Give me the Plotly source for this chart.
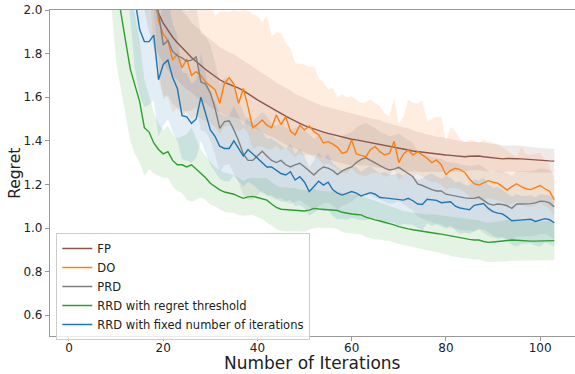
import plotly.graph_objects as go

# ---------------- data ----------------
series_names = ["FP", "DO", "PRD", "RRD with regret threshold", "RRD with fixed number of iterations"]
series_colors = ["#8c564b", "#ff7f0e", "#7f7f7f", "#2ca02c", "#1f77b4"]

x_ticks = [0, 20, 40, 60, 80, 100]
y_ticks = [0.6, 0.8, 1.0, 1.2, 1.4, 1.6, 1.8, 2.0]
x_label = "Number of Iterations"
y_label = "Regret"

# FP (starts at iteration 15)
fp_start = 15
fp_mean = [2.3, 2.2, 2.1, 2.02, 1.985, 1.94, 1.905, 1.875, 1.85, 1.825, 1.805, 1.782, 1.762, 1.745, 1.727,
           1.71, 1.695, 1.68, 1.668, 1.66, 1.652, 1.642, 1.63, 1.615, 1.60, 1.588, 1.575, 1.562, 1.55, 1.536,
           1.525, 1.513, 1.502, 1.49, 1.48, 1.47, 1.462, 1.455, 1.448, 1.44, 1.434, 1.428, 1.422, 1.416, 1.411,
           1.407, 1.404, 1.40, 1.397, 1.393, 1.389, 1.385, 1.38, 1.376, 1.373, 1.368, 1.363, 1.358, 1.353, 1.35,
           1.347, 1.344, 1.341, 1.339, 1.337, 1.335, 1.333, 1.33, 1.328, 1.327, 1.329, 1.331, 1.33, 1.327, 1.324,
           1.321, 1.318, 1.317, 1.319, 1.32, 1.318, 1.317, 1.315, 1.313, 1.312, 1.31, 1.309, 1.308, 1.307]
fp_up = [0.2, 0.2, 0.2, 0.19, 0.19, 0.18, 0.18, 0.18, 0.17, 0.17, 0.17, 0.16, 0.16, 0.16, 0.155,
         0.155, 0.15, 0.15, 0.15, 0.145, 0.145, 0.14, 0.14, 0.14, 0.14, 0.135, 0.135, 0.135, 0.13, 0.13,
         0.13, 0.13, 0.13, 0.125, 0.125, 0.125, 0.125, 0.12, 0.12, 0.12, 0.12, 0.12, 0.12, 0.12, 0.12,
         0.12, 0.115, 0.115, 0.11, 0.11, 0.11, 0.11, 0.105, 0.105, 0.1, 0.1, 0.1, 0.1, 0.095, 0.09,
         0.09, 0.085, 0.085, 0.08, 0.08, 0.078, 0.075, 0.072, 0.07, 0.068, 0.066, 0.065, 0.065, 0.065, 0.064,
         0.063, 0.062, 0.062, 0.06, 0.06, 0.06, 0.06, 0.058, 0.058, 0.057, 0.056, 0.056, 0.055, 0.055]
fp_lo = fp_up

# DO (starts at iteration 15)
do_start = 15
do_mean = [2.9, 2.7, 2.4, 2.1, 1.95, 1.89, 1.86, 1.77, 1.80, 1.735, 1.775, 1.70, 1.717, 1.70, 1.67,
           1.652, 1.635, 1.572, 1.664, 1.69, 1.66, 1.572, 1.64, 1.556, 1.46, 1.475, 1.495, 1.472, 1.46, 1.518,
           1.475, 1.51, 1.445, 1.427, 1.472, 1.45, 1.468, 1.442, 1.427, 1.39, 1.396, 1.385, 1.37, 1.342, 1.35,
           1.404, 1.34, 1.333, 1.327, 1.36, 1.373, 1.35, 1.335, 1.342, 1.398, 1.30, 1.34, 1.358, 1.335, 1.35,
           1.335, 1.32, 1.30, 1.312, 1.29, 1.245, 1.265, 1.274, 1.268, 1.255, 1.225, 1.203, 1.197, 1.207, 1.217,
           1.21, 1.206, 1.19, 1.174, 1.19, 1.203, 1.19, 1.18, 1.176, 1.187, 1.195, 1.18, 1.168, 1.13]
do_up = [0.45, 0.45, 0.42, 0.42, 0.4, 0.42, 0.38, 0.4, 0.36, 0.4, 0.35, 0.38, 0.42, 0.36, 0.33,
         0.38, 0.34, 0.42, 0.33, 0.30, 0.34, 0.42, 0.36, 0.44, 0.52, 0.5, 0.45, 0.5, 0.42, 0.38,
         0.42, 0.34, 0.38, 0.33, 0.28, 0.30, 0.27, 0.3, 0.26, 0.28, 0.24, 0.26, 0.23, 0.27, 0.25,
         0.2, 0.25, 0.24, 0.25, 0.23, 0.2, 0.21, 0.19, 0.17, 0.2, 0.18, 0.17, 0.23, 0.24, 0.22,
         0.25, 0.17, 0.2, 0.2, 0.22, 0.15, 0.2, 0.17, 0.14, 0.14, 0.18, 0.2, 0.19, 0.2, 0.18,
         0.18, 0.18, 0.18, 0.18, 0.15, 0.12, 0.18, 0.16, 0.16, 0.155, 0.15, 0.13, 0.12, 0.09]
do_lo = [0.3, 0.3, 0.28, 0.28, 0.27, 0.28, 0.26, 0.24, 0.25, 0.22, 0.24, 0.2, 0.2, 0.2, 0.18,
         0.17, 0.17, 0.14, 0.2, 0.22, 0.2, 0.13, 0.18, 0.12, 0.1, 0.1, 0.12, 0.11, 0.1, 0.14,
         0.12, 0.14, 0.1, 0.1, 0.13, 0.12, 0.13, 0.12, 0.11, 0.1, 0.1, 0.1, 0.1, 0.09, 0.1,
         0.13, 0.09, 0.09, 0.09, 0.11, 0.12, 0.1, 0.1, 0.1, 0.13, 0.08, 0.1, 0.11, 0.1, 0.1,
         0.1, 0.1, 0.09, 0.1, 0.09, 0.07, 0.08, 0.09, 0.09, 0.09, 0.08, 0.07, 0.07, 0.08, 0.08,
         0.08, 0.08, 0.07, 0.07, 0.08, 0.08, 0.08, 0.08, 0.08, 0.08, 0.08, 0.08, 0.08, 0.07]

# PRD (starts at iteration 16)
prd_start = 16
prd_mean = [2.8, 2.5, 2.25, 1.99, 1.84, 1.86, 1.81, 1.79, 1.78, 1.765, 1.77, 1.785, 1.67, 1.66,
            1.62, 1.55, 1.457, 1.488, 1.492, 1.45, 1.40, 1.34, 1.31, 1.31, 1.33, 1.352, 1.33, 1.31, 1.30,
            1.31, 1.29, 1.28, 1.29, 1.297, 1.28, 1.262, 1.243, 1.265, 1.28, 1.275, 1.263, 1.245, 1.262, 1.272,
            1.28, 1.30, 1.315, 1.322, 1.31, 1.298, 1.287, 1.275, 1.266, 1.27, 1.278, 1.262, 1.25, 1.235, 1.202,
            1.195, 1.185, 1.176, 1.17, 1.17, 1.155, 1.15, 1.148, 1.141, 1.138, 1.136, 1.136, 1.142, 1.127, 1.112,
            1.105, 1.11, 1.108, 1.102, 1.09, 1.11, 1.11, 1.11, 1.112, 1.115, 1.123, 1.122, 1.115, 1.097]
prd_up = [0.28, 0.27, 0.26, 0.25, 0.25, 0.25, 0.24, 0.24, 0.24, 0.23, 0.23, 0.23, 0.22, 0.22,
          0.22, 0.21, 0.2, 0.2, 0.2, 0.2, 0.19, 0.19, 0.18, 0.18, 0.18, 0.18, 0.18, 0.17, 0.17,
          0.17, 0.17, 0.17, 0.17, 0.17, 0.17, 0.165, 0.165, 0.165, 0.165, 0.16, 0.16, 0.16, 0.16, 0.16,
          0.16, 0.16, 0.16, 0.16, 0.16, 0.16, 0.155, 0.155, 0.155, 0.155, 0.155, 0.155, 0.155, 0.155, 0.15,
          0.15, 0.15, 0.15, 0.15, 0.15, 0.15, 0.15, 0.15, 0.15, 0.15, 0.15, 0.15, 0.15, 0.15, 0.15,
          0.15, 0.15, 0.15, 0.15, 0.15, 0.15, 0.15, 0.15, 0.15, 0.15, 0.15, 0.15, 0.15, 0.15]
prd_lo = prd_up

# RRD with regret threshold (starts at iteration 8)
thr_start = 8
thr_mean = [2.9, 2.4, 2.12, 1.98, 1.86, 1.73, 1.66, 1.58, 1.46, 1.44, 1.39, 1.36, 1.34, 1.35, 1.31,
            1.29, 1.29, 1.28, 1.29, 1.27, 1.25, 1.23, 1.205, 1.19, 1.175, 1.165, 1.16, 1.155, 1.145, 1.136,
            1.143, 1.145, 1.14, 1.135, 1.128, 1.11, 1.095, 1.086, 1.085, 1.084, 1.083, 1.08, 1.078, 1.082, 1.09,
            1.087, 1.085, 1.084, 1.083, 1.08, 1.072, 1.067, 1.064, 1.062, 1.06, 1.05, 1.042, 1.037, 1.032, 1.026,
            1.022, 1.014, 1.006, 1.0, 0.996, 0.992, 0.988, 0.985, 0.98, 0.978, 0.975, 0.972, 0.968, 0.962, 0.957,
            0.955, 0.952, 0.948, 0.945, 0.945, 0.938, 0.934, 0.936, 0.939, 0.941, 0.943, 0.945, 0.944, 0.942, 0.941,
            0.94, 0.94, 0.941, 0.942, 0.942, 0.942]
thr_up = [0.4, 0.38, 0.36, 0.35, 0.34, 0.33, 0.32, 0.28, 0.22, 0.17, 0.14, 0.12, 0.11, 0.12, 0.12,
          0.12, 0.13, 0.15, 0.17, 0.14, 0.11, 0.10, 0.1, 0.09, 0.09, 0.09, 0.09, 0.085, 0.085, 0.08,
          0.085, 0.085, 0.09, 0.095, 0.1, 0.1, 0.1, 0.1, 0.1, 0.1, 0.1, 0.095, 0.095, 0.09, 0.09,
          0.085, 0.085, 0.085, 0.083, 0.085, 0.09, 0.09, 0.09, 0.09, 0.09, 0.09, 0.09, 0.09, 0.085, 0.085,
          0.08, 0.08, 0.08, 0.078, 0.078, 0.077, 0.08, 0.08, 0.082, 0.085, 0.085, 0.087, 0.088, 0.09, 0.09,
          0.09, 0.09, 0.09, 0.09, 0.09, 0.09, 0.09, 0.09, 0.092, 0.094, 0.095, 0.095, 0.093, 0.092, 0.09,
          0.09, 0.09, 0.09, 0.09, 0.09, 0.09]
thr_lo = thr_up

# RRD with fixed number of iterations (starts at iteration 11)
fix_start = 11
fix_mean = [2.9, 2.55, 2.3, 2.05, 1.91, 1.855, 1.855, 1.885, 1.68, 1.75, 1.77, 1.69, 1.64, 1.515, 1.51,
            1.48, 1.50, 1.60, 1.525, 1.45, 1.42, 1.375, 1.365, 1.365, 1.40, 1.365, 1.33, 1.36, 1.34, 1.32,
            1.30, 1.28, 1.28, 1.266, 1.25, 1.243, 1.258, 1.22, 1.235, 1.21, 1.167, 1.19, 1.215, 1.197, 1.21,
            1.175, 1.16, 1.151, 1.158, 1.167, 1.16, 1.147, 1.155, 1.162, 1.155, 1.14, 1.138, 1.136, 1.134, 1.131,
            1.128, 1.136, 1.125, 1.11, 1.108, 1.132, 1.13, 1.127, 1.116, 1.118, 1.12, 1.10, 1.092, 1.088, 1.084,
            1.104, 1.108, 1.112, 1.09, 1.075, 1.068, 1.065, 1.05, 1.033, 1.035, 1.037, 1.038, 1.04, 1.03, 1.035,
            1.043, 1.038, 1.024]
fix_up = [0.36, 0.35, 0.34, 0.32, 0.3, 0.3, 0.29, 0.3, 0.26, 0.28, 0.27, 0.25, 0.24, 0.2, 0.2,
          0.18, 0.18, 0.2, 0.18, 0.16, 0.16, 0.15, 0.15, 0.15, 0.16, 0.15, 0.14, 0.15, 0.14, 0.14,
          0.14, 0.13, 0.13, 0.13, 0.13, 0.12, 0.13, 0.12, 0.13, 0.12, 0.11, 0.12, 0.13, 0.12, 0.13,
          0.12, 0.12, 0.11, 0.12, 0.12, 0.12, 0.11, 0.12, 0.12, 0.11, 0.11, 0.12, 0.11, 0.11, 0.12,
          0.11, 0.12, 0.11, 0.11, 0.12, 0.11, 0.12, 0.11, 0.11, 0.12, 0.11, 0.11, 0.12, 0.11, 0.11,
          0.12, 0.11, 0.12, 0.11, 0.11, 0.12, 0.11, 0.11, 0.11, 0.12, 0.11, 0.11, 0.11, 0.11, 0.12,
          0.11, 0.11, 0.11]
fix_lo = fix_up

starts = [fp_start, do_start, prd_start, thr_start, fix_start]
means = [fp_mean, do_mean, prd_mean, thr_mean, fix_mean]
ups = [fp_up, do_up, prd_up, thr_up, fix_up]
los = [fp_lo, do_lo, prd_lo, thr_lo, fix_lo]

# ---------------- figure ----------------
def rgba(hex_color, a):
    h = hex_color.lstrip("#")
    r, g, b = int(h[0:2], 16), int(h[2:4], 16), int(h[4:6], 16)
    return f"rgba({r},{g},{b},{a})"

fig = go.Figure()

# shaded bands first
for name, col, s, m, up, lo in zip(series_names, series_colors, starts, means, ups, los):
    xs = list(range(s, s + len(m)))
    upper = [a + b for a, b in zip(m, up)]
    lower = [a - b for a, b in zip(m, lo)]
    fig.add_trace(go.Scatter(
        x=xs + xs[::-1], y=upper + lower[::-1],
        fill="toself", fillcolor=rgba(col, 0.13),
        line=dict(width=0, color=rgba(col, 0)), mode="lines",
        showlegend=False, hoverinfo="skip"))

# mean lines on top
for name, col, s, m in zip(series_names, series_colors, starts, means):
    xs = list(range(s, s + len(m)))
    fig.add_trace(go.Scatter(x=xs, y=m, mode="lines", name=name,
                             line=dict(color=col, width=1.4)))

font_family = "DejaVu Sans"
text_color = "#222222"
fig.update_layout(
    width=575, height=374,
    margin=dict(l=50, r=0, t=10, b=38),
    paper_bgcolor="white", plot_bgcolor="white",
    font=dict(family=font_family, size=12, color=text_color),
    showlegend=True,
    legend=dict(x=0.012, y=0.316, xanchor="left", yanchor="top",
                bgcolor="rgba(255,255,255,0.8)", bordercolor="#cccccc", borderwidth=1,
                font=dict(size=11.5, family=font_family, color=text_color),
                tracegroupgap=0, entrywidth=240, entrywidthmode="pixels"),
    annotations=[
        dict(text=x_label, xref="paper", yref="paper", x=0.5, y=-0.083,
             xanchor="center", yanchor="middle", showarrow=False,
             font=dict(size=17, family=font_family, color=text_color)),
        dict(text=y_label, xref="paper", yref="paper", x=-0.067, y=0.5, textangle=-90,
             xanchor="center", yanchor="middle", showarrow=False,
             font=dict(size=15.5, family=font_family, color=text_color)),
    ],
)
fig.update_xaxes(
    range=[-4.03, 107.4], tickvals=x_ticks, ticktext=[str(v) for v in x_ticks],
    showgrid=False, zeroline=False, showline=True, linecolor="#999999", linewidth=1.2,
    mirror=True, ticks="outside", ticklen=4, tickcolor="#999999", tickwidth=1,
    tickfont=dict(size=12, family=font_family, color=text_color),
    ticklabelstandoff=-4,
    automargin=False,
)
fig.update_yaxes(
    range=[0.5046, 2.0], tickvals=y_ticks, ticktext=[f"{v:.1f}" for v in y_ticks],
    showgrid=False, zeroline=False, showline=True, linecolor="#999999", linewidth=1.2,
    ticks="outside", ticklen=4, tickcolor="#999999", tickwidth=1,
    tickfont=dict(size=12, family=font_family, color=text_color),
    automargin=False,
)

fig.write_html("out.html")
